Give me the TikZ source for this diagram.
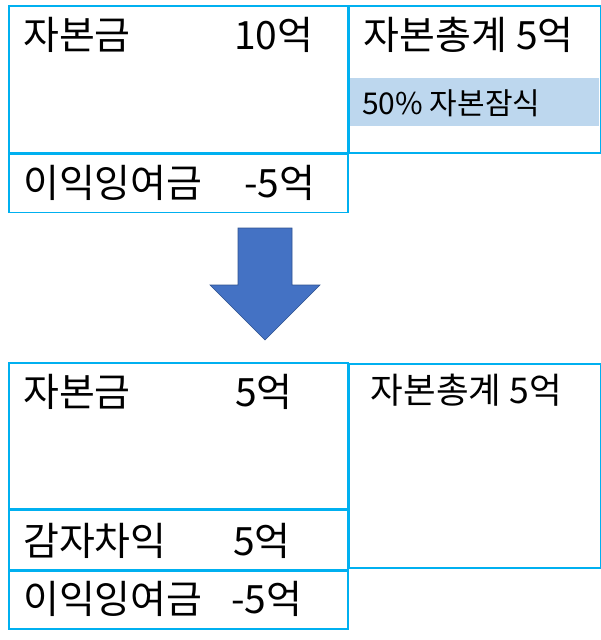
\documentclass[tikz,border=0pt]{standalone}
\usepackage{fontspec}
\usepackage{tikz}
\usetikzlibrary{positioning, calc}
\newfontfamily\kr{Noto Sans CJK KR}
\definecolor{boxline}{HTML}{00B0F0}
\definecolor{bandfill}{HTML}{BDD7EE}
\definecolor{arrfill}{HTML}{4472C4}
\definecolor{arrline}{HTML}{2F528F}

\begin{document}
\begin{tikzpicture}[x=1pt, y=1pt]

					\tikzstyle{acc}=[draw=boxline, line width=1.6pt, inner sep=0, anchor=north west];
					\tikzstyle{big}=[inner sep=0, text height=32.5pt, text depth=7pt, font=\kr\fontsize{39pt}{43pt}\selectfont];
					\tikzstyle{mid}=[inner sep=0, text height=29.5pt, text depth=6pt, font=\kr\fontsize{35.5pt}{39pt}\selectfont];
					\tikzstyle{sml}=[inner sep=0, text height=25pt, text depth=5pt, font=\kr\fontsize{30pt}{34pt}\selectfont];
					\tikzstyle{arr}=[draw=arrline, fill=arrfill, line width=0.6pt, line join=miter];

					\useasboundingbox (0,0) rectangle (600,-640);

					\node (cap top) [acc, minimum width=339pt, minimum height=147pt] at (8,-5) {};
					\node (cap top label) [big, below right=12pt and 15pt of cap top.north west] {자본금};
					\node (cap top value) [big, below right=12pt and 226pt of cap top.north west] {10억};

					\node (ret top) [acc, minimum width=339pt, minimum height=58pt, below right=0pt and 0pt of cap top.south west] {};
					\node (ret top label) [big, below right=11pt and 15pt of ret top.north west] {이익잉여금};
					\node (ret top value) [big, below right=11pt and 236pt of ret top.north west] {-5억};

					\node (band top) [fill=bandfill, inner sep=0, minimum width=250pt, minimum height=48pt, below right=73pt and 0.5pt of cap top.north east] {};
					\node (band top label) [sml, below right=11pt and 13pt of band top.north west] {50\% 자본잠식};

					\node (tot top) [acc, minimum width=251pt, minimum height=147pt, below right=0pt and 0pt of cap top.north east] {};
					\node (tot top label) [big, below right=12pt and 15pt of tot top.north west] {자본총계 5억};

					\coordinate (arrow top) at (265,-228);
					\draw [arr] (arrow top) ++(-27,0) -- ++(54,0) -- ++(0,-57) -- ++(28,0) -- ++(-55,-55) -- ++(-55,55) -- ++(28,0) -- cycle;

					\node (cap bot) [acc, minimum width=339pt, minimum height=146pt] at (8,-362) {};
					\node (cap bot label) [big, below right=12pt and 15pt of cap bot.north west] {자본금};
					\node (cap bot value) [big, below right=12pt and 227pt of cap bot.north west] {5억};

					\node (red bot) [acc, minimum width=339pt, minimum height=59pt, below right=0pt and 0pt of cap bot.south west] {};
					\node (red bot label) [big, below right=13pt and 15pt of red bot.north west] {감자차익};
					\node (red bot value) [big, below right=13pt and 225pt of red bot.north west] {5억};

					\node (ret bot) [acc, minimum width=339pt, minimum height=58pt, below right=0pt and 0pt of red bot.south west] {};
					\node (ret bot label) [big, below right=11pt and 15pt of ret bot.north west] {이익잉여금};
					\node (ret bot value) [big, below right=11pt and 223pt of ret bot.north west] {-5억};

					\node (tot bot) [acc, minimum width=251pt, minimum height=204pt, below right=1pt and 0pt of cap bot.north east] {};
					\node (tot bot label) [mid, below right=11pt and 22pt of tot bot.north west] {자본총계 5억};

\end{tikzpicture}
\end{document}
